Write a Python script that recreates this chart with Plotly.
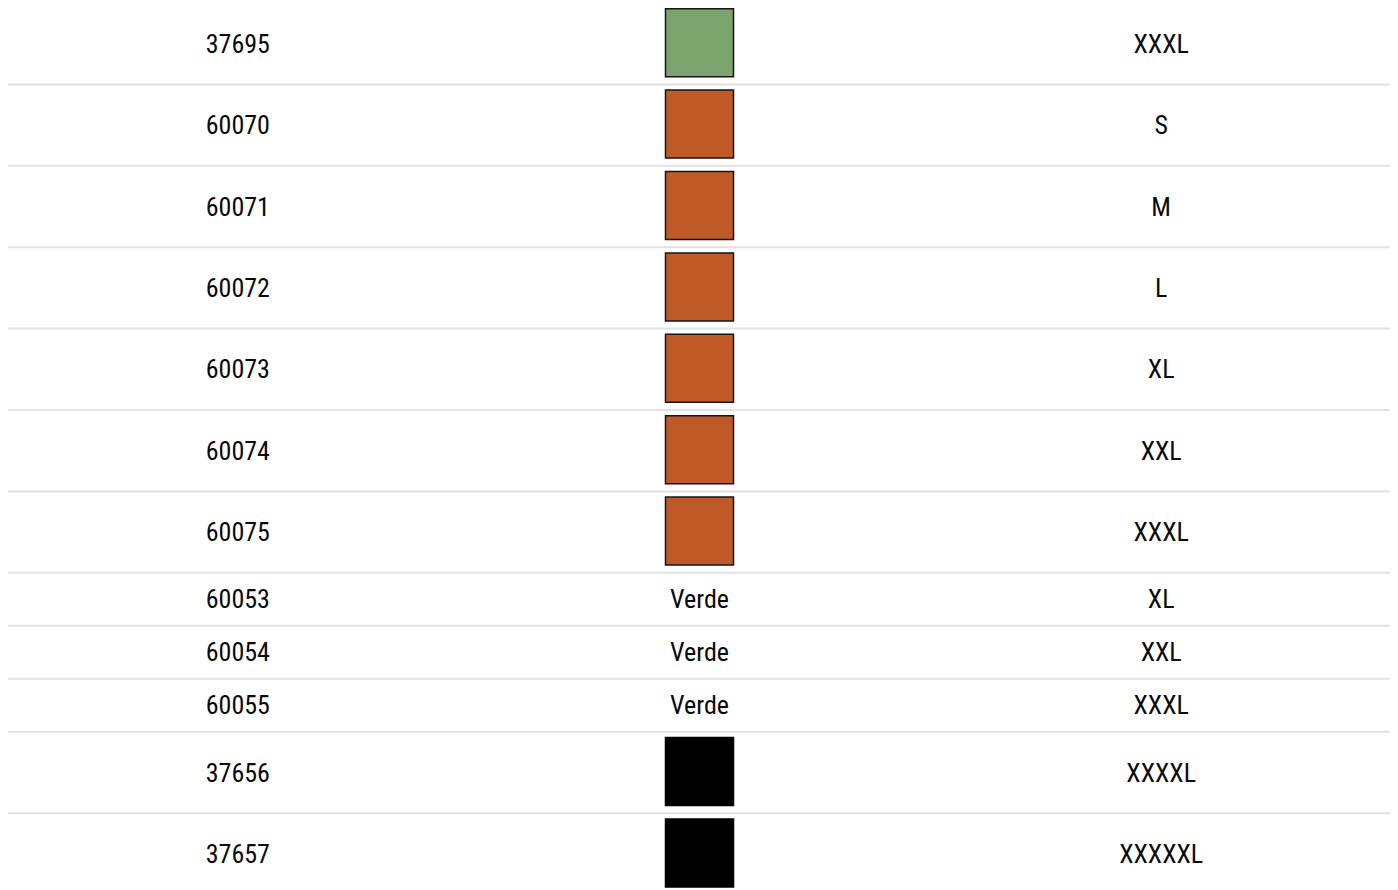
"""Product code / colour / size listing drawn as a plotly table-like figure."""

import plotly.graph_objects as go

codes = ["37695", "60070", "60071", "60072", "60073", "60074", "60075",
         "60053", "60054", "60055", "37656", "37657"]
swatches = ["#7ba36e", "#bf5a28", "#bf5a28", "#bf5a28", "#bf5a28", "#bf5a28",
            "#bf5a28", None, None, None, "#000000", "#000000"]
colour_names = ["", "", "", "", "", "", "", "Verde", "Verde", "Verde", "", ""]
sizes = ["XXXL", "S", "M", "L", "XL", "XXL", "XXXL", "XL", "XXL", "XXXL",
         "XXXXL", "XXXXXL"]

# the page body adds an 8px margin, so axis units are mapped to window pixels
OFF = 8
W, H = 1398 - OFF, 890 - OFF
LEFT, RIGHT, TOP = 7, 1392, 3
SWATCH_ROW, TEXT_ROW = 81.4, 53
TEXT_DY = 2.5
FONT = dict(family="Roboto Condensed, Liberation Sans, sans-serif",
            size=26, color="#0a0a0a")

# row geometry (pixel space, y grows downwards)
centers, bottoms = [], []
y = TOP
for sw in swatches:
    h = SWATCH_ROW if sw else TEXT_ROW
    centers.append(y + h / 2)
    y += h
    bottoms.append(y)

col_w = (RIGHT - LEFT) / 3
col_x = [LEFT + col_w * (i + 0.5) for i in range(3)]

fig = go.Figure()

# separators
for b in bottoms[:-1]:
    fig.add_shape(type="line", x0=LEFT, x1=RIGHT, y0=b, y1=b,
                  line=dict(color="#e2e2e2", width=2), layer="below")

fig.add_trace(go.Scatter(
    x=[col_x[0]] * len(codes), y=[c + TEXT_DY for c in centers], text=codes,
    mode="text", textfont=FONT, hoverinfo="skip", cliponaxis=False))

fig.add_trace(go.Scatter(
    x=[col_x[2]] * len(sizes), y=[c + TEXT_DY for c in centers], text=sizes,
    mode="text", textfont=FONT, hoverinfo="skip", cliponaxis=False))

txt_idx = [i for i, s in enumerate(swatches) if not s]
fig.add_trace(go.Scatter(
    x=[col_x[1]] * len(txt_idx), y=[centers[i] + TEXT_DY for i in txt_idx],
    text=[colour_names[i] for i in txt_idx],
    mode="text", textfont=FONT, hoverinfo="skip", cliponaxis=False))

sw_idx = [i for i, s in enumerate(swatches) if s]
fig.add_trace(go.Scatter(
    x=[col_x[1]] * len(sw_idx), y=[centers[i] - 1 for i in sw_idx],
    mode="markers", hoverinfo="skip", cliponaxis=False,
    marker=dict(symbol="square", size=68,
                color=[swatches[i] for i in sw_idx],
                line=dict(color=["#151515" if swatches[i] != "#000000" else "#000000"
                                 for i in sw_idx], width=1.5))))

fig.update_xaxes(range=[OFF, OFF + W], visible=False, fixedrange=True)
fig.update_yaxes(range=[OFF + H, OFF], visible=False, fixedrange=True)
fig.update_layout(
    width=W, height=H, margin=dict(l=0, r=0, t=0, b=0),
    plot_bgcolor="white", paper_bgcolor="white",
    showlegend=False, hovermode=False,
)

fig.write_html("out.html", config={"displayModeBar": False})
